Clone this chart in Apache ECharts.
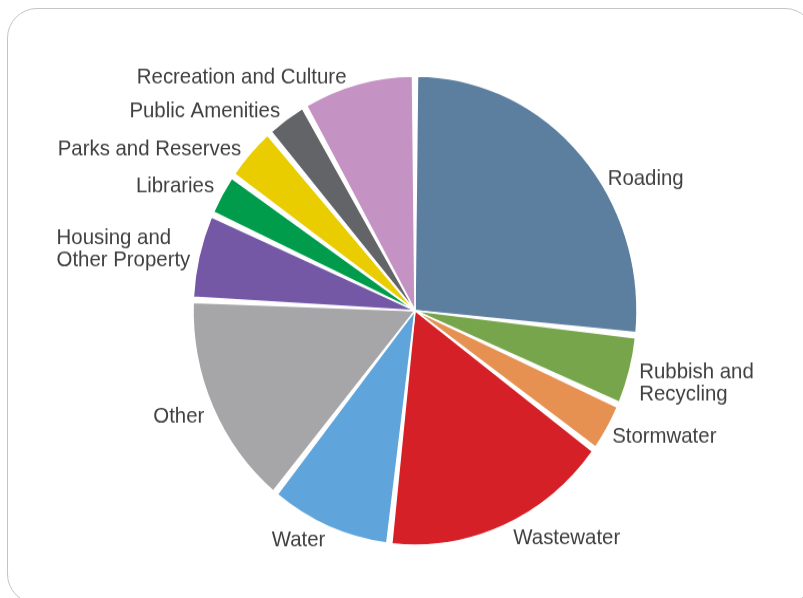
<!DOCTYPE html>
<html>
<head>
<meta charset="utf-8">
<script src="https://cdn.jsdelivr.net/npm/echarts@6/dist/echarts.min.js"></script>
<style>
  html, body { margin: 0; padding: 0; background: #fff; overflow: hidden; width: 803px; height: 598px; }
  #frame {
    position: absolute; left: 7px; top: 8px; width: 808px; height: 596px;
    border: 1.3px solid #c4c4c4; border-radius: 30px; box-sizing: border-box;
  }
  /* the pie is drawn slightly taller than wide */
  #chart {
    position: absolute; left: 0; top: 0; width: 803px; height: 566px;
    transform: scaleY(1.0566); transform-origin: 0 0;
  }
</style>
</head>
<body>
<div id="frame"></div>
<div id="chart"></div>
<script>
// Spending share by activity (% of total)
const categories = [
  'Roading', 'Rubbish and\nRecycling', 'Stormwater', 'Wastewater', 'Water', 'Other',
  'Housing and\nOther Property', 'Libraries', 'Parks and Reserves', 'Public Amenities',
  'Recreation and Culture'
];
const shares = [26.7, 4.9, 3.5, 16.8, 9.0, 14.9, 6.0, 3.0, 3.9, 3.1, 8.3];
const colors = [
  '#5c7fa0', '#77a54b', '#e69152', '#d52027', '#5fa4da', '#a6a6a9',
  '#7457a5', '#009b4b', '#e9cd00', '#636468', '#c592c4'
];

// label offsets [dx, dy] from the default outside placement
const nudges = {
  'Roading': [16, 30],
  'Rubbish and\nRecycling': [-4, 10],
  'Stormwater': [-8, 4.3],
  'Wastewater': [1, 4.1],
  'Water': [5, 4.9],
  'Other': [5, 6.2],
  'Housing and\nOther Property': [5, -5],
  'Libraries': [5, -3.3],
  'Parks and Reserves': [3, 2.4],
  'Public Amenities': [4, 0],
  'Recreation and Culture': [-4, 2.2]
};
// multi-line labels on the left keep their lines flush left
const flushLeft = ['Housing and\nOther Property'];

const chart = echarts.init(document.getElementById('chart'), null, { renderer: 'canvas' });
chart.setOption({
  animation: false,
  backgroundColor: 'transparent',
  series: [{
    type: 'pie',
    center: [415, 293.9],
    radius: ['0%', 222],
    startAngle: 90,
    clockwise: true,
    padAngle: 1.3,
    avoidLabelOverlap: true,
    itemStyle: { borderColor: '#ffffff', borderWidth: 1.5 },
    label: {
      show: true,
      position: 'outside',
      color: '#404040',
      fontSize: 20.4,
      lineHeight: 21,
      fontFamily: '"Liberation Sans", Arial, sans-serif'
    },
    labelLine: { show: false, length: 9, length2: 0 },
    labelLayout: function (p) {
      const name = categories[p.dataIndex];
      const n = nudges[name] || [0, 0];
      if (flushLeft.indexOf(name) >= 0) {
        return { x: p.labelRect.x + n[0], align: 'left', dy: n[1] };
      }
      return { dx: n[0], dy: n[1] };
    },
    emphasis: { disabled: true },
    data: categories.map((name, i) => ({
      name: name,
      value: shares[i],
      itemStyle: { color: colors[i] }
    }))
  }]
});
</script>
</body>
</html>
